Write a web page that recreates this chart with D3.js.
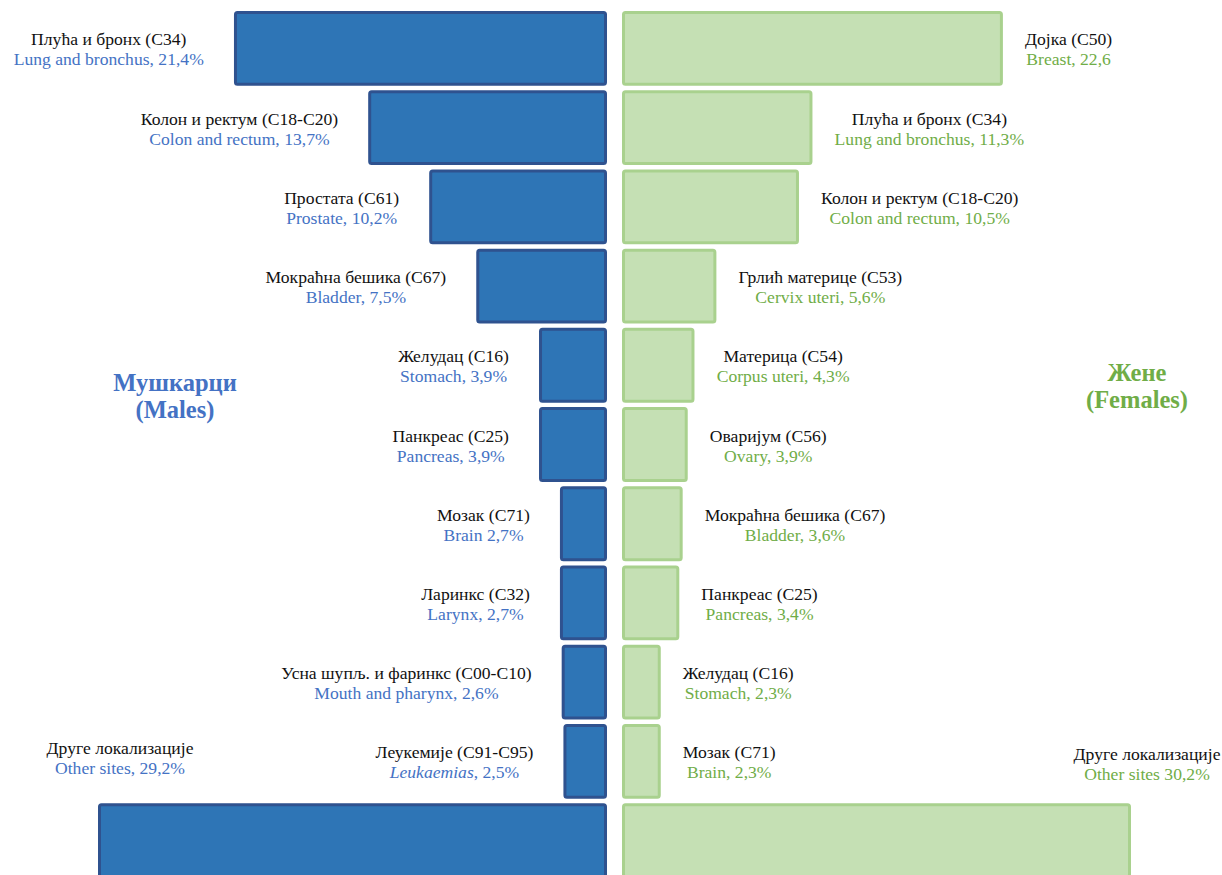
<!DOCTYPE html>
<html>
<head>
<meta charset="utf-8">
<script src="https://cdn.jsdelivr.net/npm/d3@7"></script>
<style>
  body { margin: 0; background: #fff; }
  svg { display: block; }
</style>
</head>
<body>
<svg id="chart" width="1222" height="875"></svg>
<script>
// males (left side)
var maleSr = ["Плућа  и бронх (C34)", "Колон и ректум  (C18-C20)", "Простата (C61)", "Мокраћна бешика (C67)",
    "Желудац (C16)", "Панкреас (C25)", "Мозак (C71)", "Ларинкс (C32)",
    "Усна шупљ. и фаринкс (C00-C10)", "Леукемије (C91-C95)", "Друге локализације"];
var maleEn = ["Lung and bronchus, 21,4%", "Colon and rectum, 13,7%", "Prostate, 10,2%", "Bladder, 7,5%",
    "Stomach, 3,9%", "Pancreas, 3,9%", "Brain 2,7%", "Larynx,  2,7%",
    "Mouth and pharynx,  2,6%", "Leukaemias, 2,5%", "Other sites, 29,2%"];
var maleVal = [21.4, 13.7, 10.2, 7.5, 3.9, 3.9, 2.7, 2.7, 2.6, 2.5, 29.2];

// females (right side)
var femaleSr = ["Дојка (C50)", "Плућа и бронх (C34)", "Колон и ректум  (C18-C20)", "Грлић материце (C53)",
    "Материца (C54)", "Оваријум (C56)", "Мокраћна бешика (C67)", "Панкреас (C25)",
    "Желудац (C16)", "Мозак (C71)", "Друге локализације"];
var femaleEn = ["Breast, 22,6", "Lung and bronchus, 11,3%", "Colon and rectum, 10,5%", "Cervix uteri, 5,6%",
    "Corpus uteri, 4,3%", "Ovary, 3,9%", "Bladder, 3,6%", "Pancreas, 3,4%",
    "Stomach, 2,3%", "Brain, 2,3%", "Other sites 30,2%"];
var femaleVal = [22.6, 11.3, 10.5, 5.6, 4.3, 3.9, 3.6, 3.4, 2.3, 2.3, 30.2];

var maleTitle = ["Мушкарци", "(Males)"];
var femaleTitle = ["Жене", "(Females)"];

var svg = d3.select("#chart");
var midL = 607, midR = 622, maxW = 509;
var blue = "#2E75B6", blueStroke = "#2F528F", blueText = "#4472C4";
var green = "#C5E0B4", greenStroke = "#A9D18E", greenText = "#70AD47";
var serif = "'Liberation Serif', 'Times New Roman', Times, 'DejaVu Serif', serif";

var y = d3.scaleBand()
    .domain(d3.range(maleVal.length))
    .range([11, 878])
    .paddingInner(0.055)
    .paddingOuter(0);

var xm = d3.scaleLinear().domain([0, d3.max(maleVal)]).range([0, maxW]);
var xf = d3.scaleLinear().domain([0, d3.max(femaleVal)]).range([0, maxW]);

var male = maleVal.map((v, i) => ({ i: i, v: v, sr: maleSr[i], en: maleEn[i] }));
var female = femaleVal.map((v, i) => ({ i: i, v: v, sr: femaleSr[i], en: femaleEn[i] }));
var last = maleVal.length - 1;

// bars
svg.append("g").selectAll("rect")
    .data(male)
    .enter().append("rect")
    .attr("x", d => midL - xm(d.v) + 1.5)
    .attr("y", d => y(d.i) + 1.5)
    .attr("width", d => xm(d.v) - 3)
    .attr("height", y.bandwidth() - 3)
    .attr("rx", 2)
    .attr("fill", blue)
    .attr("stroke", blueStroke)
    .attr("stroke-width", 3);

svg.append("g").selectAll("rect")
    .data(female)
    .enter().append("rect")
    .attr("x", midR + 1.5)
    .attr("y", d => y(d.i) + 1.5)
    .attr("width", d => xf(d.v) - 3)
    .attr("height", y.bandwidth() - 3)
    .attr("rx", 2)
    .attr("fill", green)
    .attr("stroke", greenStroke)
    .attr("stroke-width", 3);

// labels: two centred lines, serbian on top, english below
var addLabel = function(g, d, color) {
    var t = g.append("text")
        .attr("text-anchor", "middle")
        .attr("font-family", serif)
        .attr("font-size", 17.6);
    t.append("tspan").attr("x", 0).attr("y", 0).attr("fill", "#111").text(d.sr);
    var en = t.append("tspan").attr("x", 0).attr("y", 20).attr("fill", color);
    if (d.en.indexOf("Leukaemias") === 0) {
        en.append("tspan").attr("font-style", "italic").text("Leukaemias");
        en.append("tspan").text(d.en.slice(10));
    } else {
        en.text(d.en);
    }
    return t;
};

male.forEach(function(d) {
    var g = svg.append("g");
    var t = addLabel(g, d, blueText);
    var w = t.node().getBBox().width;
    var cx, cy;
    if (d.i === last) {
        cx = midL - xm(d.v) + 22;
        cy = y(d.i) - 49;
    } else {
        cx = midL - xm(d.v) - 30 - w / 2;
        cy = y(d.i) + y.bandwidth() / 2 - 3;
    }
    g.attr("transform", "translate(" + cx + "," + cy + ")");
});

female.forEach(function(d) {
    var g = svg.append("g");
    var t = addLabel(g, d, greenText);
    var w = t.node().getBBox().width;
    var cx, cy;
    if (d.i === last) {
        cx = midR + xf(d.v) + 16;
        cy = y(d.i) - 43;
    } else {
        cx = midR + xf(d.v) + 22 + w / 2;
        cy = y(d.i) + y.bandwidth() / 2 - 3;
    }
    g.attr("transform", "translate(" + cx + "," + cy + ")");
});

// side titles
var title = function(lines, x, y0, color) {
    var t = svg.append("text")
        .attr("text-anchor", "middle")
        .attr("font-family", serif)
        .attr("font-size", 24.5)
        .attr("font-weight", "bold")
        .attr("fill", color);
    lines.forEach(function(l, k) {
        t.append("tspan").attr("x", x).attr("y", y0 + k * 27).text(l);
    });
};
title(maleTitle, 175, 391, blueText);
title(femaleTitle, 1137, 381, greenText);
</script>
</body>
</html>
